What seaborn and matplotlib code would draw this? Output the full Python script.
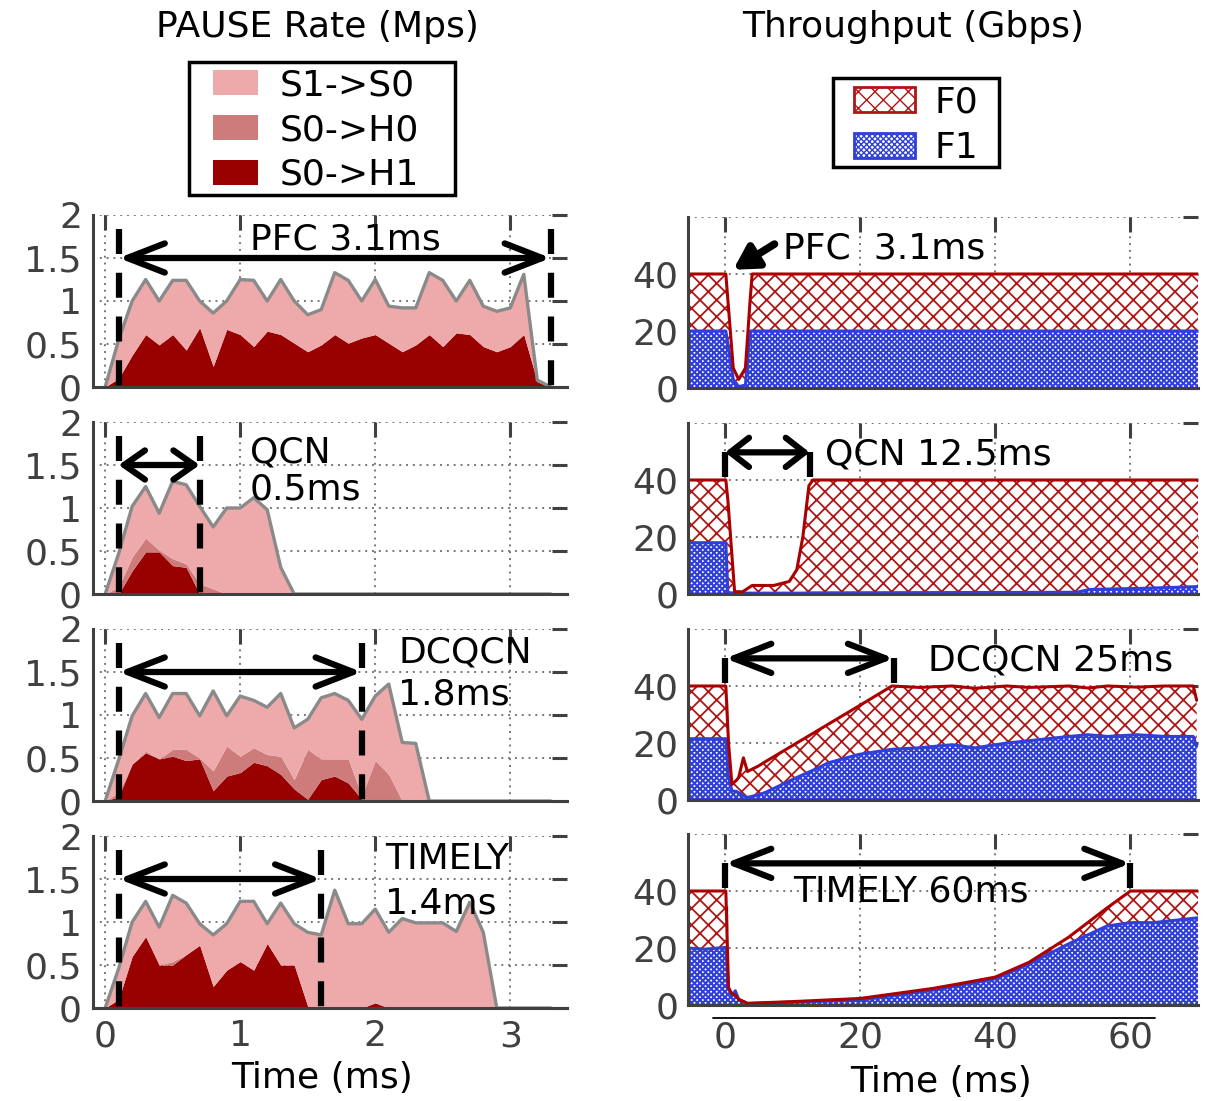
import matplotlib
matplotlib.use("Agg")
import numpy as np
import matplotlib.pyplot as plt
import seaborn as sns
from matplotlib.patches import Patch, Rectangle
from matplotlib.lines import Line2D

sns.set_theme(style="white")
plt.rcParams["font.family"] = ["DejaVu Sans"]
plt.rcParams["text.color"] = "black"

FS = 26
TICK_COL = "#404040"
C_S1S0 = "#eeaaaa"
C_S0H0 = "#cd7b7b"
C_S0H1 = "#990000"
RED = "#b01515"
BLUE = "#2f3fd8"
HATCH_F0 = "xx"
HATCH_F1 = "xxxxxx"

# ---------------- PAUSE rate data (Mps), sampled every 0.1 ms ----------------
pause_t = [0.0, 0.1, 0.2, 0.3, 0.4, 0.5, 0.6, 0.7, 0.8, 0.9, 1.0, 1.1, 1.2, 1.3, 1.4, 1.5, 1.6,
           1.7, 1.8, 1.9, 2.0, 2.1, 2.2, 2.3, 2.4, 2.5, 2.6, 2.7, 2.8, 2.9, 3.0, 3.1, 3.2, 3.3]

# total of the three stacked series (grey outline)
pfc_total = [0, 0.55, 1.0, 1.25, 1.0, 1.24, 1.24, 1.0, 0.86, 1.0, 1.25, 1.24, 1.0, 1.25, 1.0, 0.84, 0.9,
             1.33, 1.24, 1.0, 1.25, 0.94, 0.92, 0.92, 1.33, 1.24, 1.0, 1.24, 0.94, 0.88, 0.92, 1.31, 0.08, 0]
pfc_h0 = [0] * 34
pfc_h1 = [0, 0.1, 0.37, 0.61, 0.49, 0.61, 0.43, 0.69, 0.24, 0.67, 0.61, 0.47, 0.65, 0.61, 0.51, 0.41, 0.49,
          0.61, 0.51, 0.57, 0.61, 0.51, 0.41, 0.49, 0.61, 0.47, 0.63, 0.61, 0.47, 0.41, 0.47, 0.61, 0.06, 0]

qcn_total = [0, 0.47, 1.02, 1.25, 0.94, 1.31, 1.27, 1.02, 0.78, 1.0, 1.0, 1.12, 0.98, 0.31, 0, 0, 0,
             0, 0, 0, 0, 0, 0, 0, 0, 0, 0, 0, 0, 0, 0, 0, 0, 0]
qcn_h0 = [0, 0.08, 0.16, 0.16, 0.02, 0.08, 0.04, 0.12, 0.06, 0, 0, 0, 0, 0, 0, 0, 0,
          0, 0, 0, 0, 0, 0, 0, 0, 0, 0, 0, 0, 0, 0, 0, 0, 0]
qcn_h1 = [0, 0, 0.27, 0.49, 0.49, 0.33, 0.31, 0, 0, 0, 0, 0, 0, 0, 0, 0, 0,
          0, 0, 0, 0, 0, 0, 0, 0, 0, 0, 0, 0, 0, 0, 0, 0, 0]

dcqcn_total = [0, 0.48, 0.99, 1.25, 0.97, 1.25, 1.25, 0.99, 1.28, 0.99, 1.22, 1.17, 1.09, 1.25, 0.85, 0.95, 1.2,
               1.25, 1.17, 0.95, 1.22, 1.36, 0.68, 0.67, 0, 0, 0, 0, 0, 0, 0, 0, 0, 0]
dcqcn_h0 = [0, 0.05, 0, 0.02, 0, 0.08, 0.13, 0.01, 0.23, 0.35, 0.19, 0.17, 0.13, 0.21, 0.11, 0.58, 0.24,
            0.2, 0.28, 0.04, 0.47, 0.31, 0, 0, 0, 0, 0, 0, 0, 0, 0, 0, 0, 0]
dcqcn_h1 = [0, 0.05, 0.43, 0.56, 0.49, 0.52, 0.47, 0.49, 0.12, 0.29, 0.33, 0.45, 0.41, 0.31, 0.14, 0.02, 0.25,
            0.29, 0.21, 0.02, 0, 0, 0, 0, 0, 0, 0, 0, 0, 0, 0, 0, 0, 0]

timely_total = [0, 0.46, 1.0, 1.24, 0.94, 1.31, 1.22, 0.98, 0.85, 0.98, 1.24, 1.24, 0.98, 1.22, 0.98, 0.88, 0.85,
                1.37, 0.98, 0.98, 1.15, 0.88, 1.04, 0.99, 0.99, 0.99, 0.89, 1.23, 0.88, 0, 0, 0, 0, 0]
timely_h0 = [0, 0, 0, 0, 0, 0.04, 0, 0, 0, 0, 0, 0, 0, 0, 0, 0, 0,
             0, 0, 0, 0, 0, 0, 0, 0, 0, 0, 0, 0, 0, 0, 0, 0, 0]
timely_h1 = [0, 0.1, 0.6, 0.83, 0.5, 0.5, 0.62, 0.73, 0.25, 0.44, 0.54, 0.44, 0.75, 0.5, 0.5, 0.02, 0,
             0, 0, 0, 0.06, 0, 0, 0, 0, 0, 0, 0, 0, 0, 0, 0, 0, 0]

# ---------------- Throughput data (Gbps) ----------------
pfc_tp_t = [-5.5, 0.1, 1.2, 2.0, 3.0, 3.7, 4.0, 70]
pfc_tp_total = [40, 40, 7, 3, 7, 31, 40, 40]
pfc_tp_f1 = [20, 20, 3, 0.5, 1, 20, 20, 20]

qcn_tp_t = [-5.5, 0.1, 0.4, 1.4, 2.6, 4.0, 7.2, 9.5, 10.6, 11.5, 12.4, 13.0, 52, 54, 62, 70]
qcn_tp_total = [40, 40, 33, 0.8, 0.8, 3.0, 3.0, 4.4, 8.5, 20, 38, 40, 40, 40, 40, 40]
qcn_tp_f1 = [18, 18, 0.5, 0.3, 0.3, 0.3, 0.3, 0.3, 0.3, 0.3, 0.4, 0.4, 0.6, 1.6, 2.0, 2.6]

dcqcn_tp_t = [-5.5, 0.1, 0.5, 1.0, 1.7, 2.0, 2.7, 3.3, 4.9, 6.0, 10.6, 14.0, 15.2, 19.8, 24.7, 28.7,
              33.6, 37.0, 41.7, 45.0, 50.9, 53.7, 56.6, 61.0, 65.0, 69.3, 69.8]
dcqcn_tp_total = [40, 40, 20, 5.5, 7.0, 7.9, 14.8, 10, 11.9, 13.5, 20.0, 24.8, 26.5, 33.0, 40, 39.5,
                  40, 39.2, 40, 39.5, 40, 39.3, 40, 39.6, 40, 40, 35]
dcqcn_tp_f1 = [21.5, 21.5, 8, 3.2, 3.0, 2.5, 1.5, 0.9, 1.8, 2.7, 7.9, 11.5, 13, 16, 17.8, 18.3,
               19.4, 18.3, 20, 20.8, 22.3, 22.9, 22.3, 22.9, 22.3, 22.3, 18.8]

timely_tp_t = [-5.5, -3, 0.1, 0.5, 1.0, 1.5, 2.0, 3.3, 10, 20, 30.7, 35, 40, 45, 50.8, 56.5, 60, 63.4, 70]
timely_tp_total = [40, 40, 40, 6, 4, 3.5, 2, 0.6, 1.2, 2.3, 5.8, 7.6, 9.8, 15, 23.7, 34, 40, 40, 40]
timely_tp_f1 = [20, 19.6, 20.2, 6, 3, 5, 2, 0.5, 1.0, 1.7, 5.2, 7.0, 9.2, 14.4, 21.4, 27.7, 28.9, 28.9, 30.6]

# annotations: (label lines, label x, label y, marker start, marker end)
pause_marks = [
    (["PFC 3.1ms"], 1.07, [1.71], 0.1, 3.3),
    (["QCN", "0.5ms"], 1.07, [1.65, 1.22], 0.1, 0.7),
    (["DCQCN", "1.8ms"], 2.17, [1.73, 1.24], 0.1, 1.9),
    (["TIMELY", "1.4ms"], 2.07, [1.73, 1.21], 0.1, 1.6),
]
tp_marks = [
    ("PFC  3.1ms", 8.6, 49, None, None),
    ("QCN 12.5ms", 14.8, 49, 0.0, 12.5),
    ("DCQCN 25ms", 30.0, 49, 0.0, 25.0),
    ("TIMELY 60ms", 10.0, 40, 0.0, 60.0),
]

pause_data = [(pfc_total, pfc_h0, pfc_h1), (qcn_total, qcn_h0, qcn_h1),
              (dcqcn_total, dcqcn_h0, dcqcn_h1), (timely_total, timely_h0, timely_h1)]
tp_data = [(pfc_tp_t, pfc_tp_total, pfc_tp_f1), (qcn_tp_t, qcn_tp_total, qcn_tp_f1),
           (dcqcn_tp_t, dcqcn_tp_total, dcqcn_tp_f1), (timely_tp_t, timely_tp_total, timely_tp_f1)]


def style_axes(ax):
    ax.set_axisbelow(True)
    ax.grid(True, ls=(0, (1, 2.5)), color="#777777", lw=1.4)
    for s in ["top", "right"]:
        ax.spines[s].set_visible(False)
    for s in ["left", "bottom"]:
        ax.spines[s].set_color(TICK_COL)
        ax.spines[s].set_linewidth(2.2)
    ax.tick_params(direction="in", length=11, width=2.2, color=TICK_COL, labelcolor=TICK_COL,
                   labelsize=FS, top=True, right=True)
    ax.set_facecolor("white")


def double_arrow(ax, x0, x1, y, hl):
    ax.annotate("", xy=(x1, y), xytext=(x0, y),
                arrowprops=dict(arrowstyle=f"<->,head_length={hl},head_width=0.35",
                                lw=4.5, color="black", shrinkA=0, shrinkB=0, mutation_scale=30),
                zorder=6)


W, H = 1210, 1101
fig = plt.figure(figsize=(W / 100, H / 100), dpi=100)


def px_box(x0, y0, x1, y1):
    # legend frame drawn in pixel coordinates of the figure
    fig.add_artist(Rectangle((x0 / W, 1 - y1 / H), (x1 - x0) / W, (y1 - y0) / H,
                             transform=fig.transFigure, facecolor="none",
                             edgecolor="black", lw=2.5, zorder=10))


left_tops = [215, 422, 629, 836]
right_tops = [217, 423, 629, 834]
t = np.array(pause_t)

for i in range(4):
    # ---------- PAUSE rate ----------
    ax = fig.add_axes([93 / W, 1 - (left_tops[i] + 172) / H, 474 / W, 172 / H])
    style_axes(ax)
    total, h0, h1 = [np.array(a, dtype=float) for a in pause_data[i]]
    s1 = total - h0 - h1
    ax.fill_between(t, 0, h1, color=C_S0H1, lw=0, zorder=1)
    ax.fill_between(t, h1, h1 + h0, color=C_S0H0, lw=0, zorder=1)
    ax.fill_between(t, h1 + h0, h1 + h0 + s1, color=C_S1S0, lw=0, zorder=1)
    sns.lineplot(x=pause_t, y=list(total), ax=ax, color="#8a8a8a", lw=2.4, zorder=2)

    lines, tx, tys, x0, x1 = pause_marks[i]
    for s, ty in zip(lines, tys):
        ax.text(tx, ty, s, fontsize=FS, ha="left", va="center", color="black", zorder=6)
    for xv in (x0, x1):
        ax.plot([xv, xv], [1.84, -0.07], color="black", lw=4.5, ls=(0, (4, 3)),
                dash_capstyle="butt", clip_on=False, zorder=5)
    double_arrow(ax, x0, x1, 1.5, 0.9 if x1 - x0 > 1 else 0.5)

    ax.set_xlim(-0.09, 3.42)
    ax.set_ylim(0, 2)
    ax.set_xticks([0, 1, 2, 3])
    ax.set_yticks([0, 0.5, 1, 1.5, 2])
    ax.set_yticklabels(["0", "0.5", "1", "1.5", "2"])
    ax.tick_params(axis="y", pad=8)
    ax.tick_params(axis="x", pad=8, labelbottom=(i == 3))

    # ---------- Throughput ----------
    ax = fig.add_axes([688 / W, 1 - (right_tops[i] + 171) / H, 510 / W, 171 / H])
    style_axes(ax)
    tt, tot, f1 = [np.array(a, dtype=float) for a in tp_data[i]]
    label, lx, ly, m0, m1 = tp_marks[i]
    if m0 is not None:
        for xv in (m0, m1):
            ax.plot([xv, xv], [49.7, 0], color="black", lw=4.5, ls=(0, (4, 3)),
                    dash_capstyle="butt", zorder=0.9)
        double_arrow(ax, m0, m1, 49.7, 0.9 if m1 - m0 > 20 else 0.45)
    else:
        ax.annotate("", xy=(1.2, 41.5), xytext=(7.3, 50.5),
                    arrowprops=dict(arrowstyle="-|>,head_length=0.7,head_width=0.4",
                                    lw=5.5, color="black", shrinkA=0, shrinkB=0, mutation_scale=20),
                    zorder=6)
    with plt.rc_context({"hatch.linewidth": 1.5}):
        ax.fill_between(tt, 0, f1, facecolor="white", edgecolor=BLUE, hatch=HATCH_F1, lw=0, zorder=1)
    with plt.rc_context({"hatch.linewidth": 1.3}):
        ax.fill_between(tt, f1, tot, facecolor="white", edgecolor=RED, hatch=HATCH_F0, lw=0, zorder=1)
    sns.lineplot(x=list(tt), y=list(f1), ax=ax, color=BLUE, lw=2.2, zorder=2)
    sns.lineplot(x=list(tt), y=list(tot), ax=ax, color="#aa0000", lw=2.2, zorder=2)
    ax.text(lx, ly, label, fontsize=FS, ha="left", va="center", color="black", zorder=7)

    ax.set_xlim(-5.5, 70)
    ax.set_ylim(0, 60)
    ax.set_xticks([0, 20, 40, 60])
    ax.set_yticks([0, 20, 40, 60])
    ax.set_yticklabels(["0", "20", "40", ""])
    ax.tick_params(axis="y", pad=7)
    ax.tick_params(axis="x", pad=11, labelbottom=(i == 3))

# column titles and axis labels
fig.text(317 / W, 1 - 27 / H, "PAUSE Rate (Mps)", fontsize=FS, ha="center", va="center")
fig.text(913 / W, 1 - 27 / H, "Throughput (Gbps)", fontsize=FS, ha="center", va="center")
fig.text(322 / W, 1 - 1078 / H, "Time (ms)", fontsize=FS, ha="center", va="center")
fig.text(941 / W, 1 - 1082 / H, "Time (ms)", fontsize=FS, ha="center", va="center")
fig.add_artist(Line2D([713 / W, 1155 / W], [1 - 1018 / H, 1 - 1018 / H], color="black", lw=1.3))

# legends (frames drawn separately to match the original box sizes)
pause_handles = [Patch(facecolor=C_S1S0, edgecolor="none", label="S1->S0"),
                 Patch(facecolor=C_S0H0, edgecolor="none", label="S0->H0"),
                 Patch(facecolor=C_S0H1, edgecolor="none", label="S0->H1")]
fig.legend(handles=pause_handles, loc="center", bbox_to_anchor=(316 / W, 1 - 130 / H),
           fontsize=FS, frameon=False, handlelength=1.25, handleheight=0.7,
           handletextpad=0.6, labelspacing=0.3, borderpad=0, borderaxespad=0, labelcolor="black")
px_box(189, 62, 455, 195)

with plt.rc_context({"hatch.linewidth": 1.3}):
    f0_patch = Patch(facecolor="white", edgecolor=RED, hatch=HATCH_F0, lw=2, label="F0")
with plt.rc_context({"hatch.linewidth": 1.5}):
    f1_patch = Patch(facecolor="white", edgecolor=BLUE, hatch=HATCH_F1, lw=2, label="F1")
fig.legend(handles=[f0_patch, f1_patch], loc="center", bbox_to_anchor=(916 / W, 1 - 125 / H),
           fontsize=FS, frameon=False, handlelength=1.7, handleheight=0.7,
           handletextpad=0.55, labelspacing=0.33, borderpad=0, borderaxespad=0, labelcolor="black")
px_box(833, 78, 999, 167)

fig.savefig("out.png", dpi=100, facecolor="white")
